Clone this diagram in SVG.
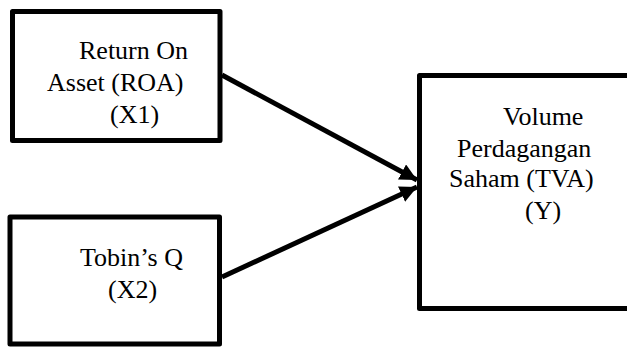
<svg xmlns="http://www.w3.org/2000/svg" width="627" height="349" viewBox="0 0 627 349">
<style>
.box{fill:#fff;stroke:#000;stroke-width:5;stroke-linejoin:round}
.t{font-family:"Liberation Serif","Times New Roman",serif;font-size:26px;fill:#000}
.c{stroke:#000;stroke-width:5;fill:none}
</style>
<defs>
<marker id="ah" markerUnits="userSpaceOnUse" markerWidth="18" markerHeight="18" refX="17" refY="8.5" orient="auto">
<path d="M0,0 L17,8.5 L0,17 z" fill="#000"/>
</marker>
</defs>
<rect width="627" height="349" fill="#fff"/>
<g id="roa">
<rect class="box" x="12.5" y="11.5" width="207.5" height="129"/>
<text class="t" x="79" y="59">Return On</text>
<text class="t" x="47" y="91">Asset (ROA)</text>
<text class="t" x="110" y="123">(X1)</text>
</g>
<g id="tobin">
<rect class="box" x="10" y="217" width="209.5" height="127"/>
<text class="t" x="80" y="266">Tobin’s Q</text>
<text class="t" x="108" y="298">(X2)</text>
</g>
<g id="tva">
<rect class="box" x="419.5" y="75.5" width="220" height="233"/>
<text class="t" x="503" y="125">Volume</text>
<text class="t" x="457" y="157">Perdagangan</text>
<text class="t" x="449" y="187">Saham (TVA)</text>
<text class="t" x="525" y="219">(Y)</text>
</g>
<g id="connectors">
<line class="c" x1="222" y1="75" x2="417" y2="180" marker-end="url(#ah)"/>
<line class="c" x1="222" y1="277" x2="417" y2="187" marker-end="url(#ah)"/>
</g>
</svg>
